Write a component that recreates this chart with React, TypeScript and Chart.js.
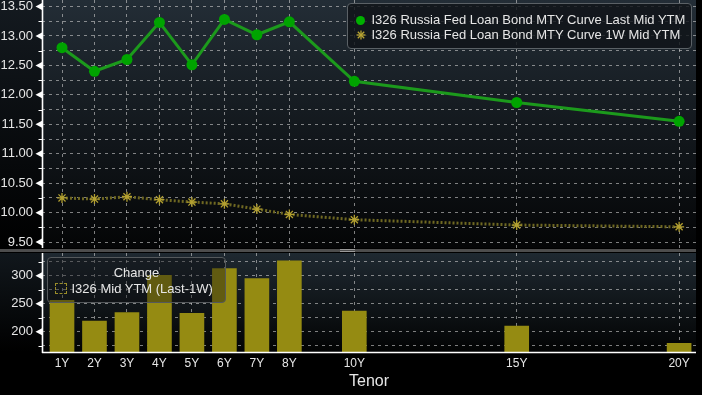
import { useEffect, useRef } from 'react';
import { Chart, registerables } from 'chart.js';

Chart.register(...registerables);

// ---- data ----
const TENOR_LABELS = ['1Y', '2Y', '3Y', '4Y', '5Y', '6Y', '7Y', '8Y', '10Y', '15Y', '20Y'];
const TENOR_YEARS = [1, 2, 3, 4, 5, 6, 7, 8, 10, 15, 20];
const LAST_MID_YTM = [12.8, 12.4, 12.6, 13.23, 12.51, 13.28, 13.02, 13.24, 12.23, 11.87, 11.55];
const WEEK_MID_YTM = [10.25, 10.23, 10.27, 10.22, 10.18, 10.15, 10.06, 9.97, 9.88, 9.79, 9.76];
const CHANGE_BP = [256, 219, 234, 301, 233, 313, 295, 327, 237, 210, 179];

const SERIES_LAST = 'I326 Russia Fed Loan Bond MTY Curve Last Mid YTM';
const SERIES_1W = 'I326 Russia Fed Loan Bond MTY Curve 1W Mid YTM';
const CHANGE_TITLE = 'Change';
const CHANGE_LABEL = 'I326 Mid YTM (Last-1W)';
const X_TITLE = 'Tenor';

const TOP_TICKS = [9.5, 9.75, 10, 10.25, 10.5, 10.75, 11, 11.25, 11.5, 11.75, 12, 12.25, 12.5, 12.75, 13, 13.25, 13.5];
const TOP_MAJOR_TICKS = [9.5, 10, 10.5, 11, 11.5, 12, 12.5, 13, 13.5];
const BOTTOM_TICKS = [175, 200, 225, 250, 275, 300, 325];
const BOTTOM_MAJOR_TICKS = [200, 250, 300];

const X_RANGE = [0.384, 20.52];
const TOP_Y_RANGE = [9.4, 13.61];
const BOTTOM_Y_RANGE = [163.5, 341];

const FONT = "'Liberation Sans', Arial, sans-serif";
const GRID_COLOR = 'rgba(200,200,200,0.62)';
const TEXT_COLOR = '#e6e6e6';

function decoPlugin(kind: 'top' | 'bottom') {
  return {
    id: 'deco-' + kind,
    beforeDraw(chart: any) {
      const { ctx, chartArea } = chart;
      const { left, right, top, bottom } = chartArea;
      ctx.save();
      ctx.fillStyle = '#000';
      ctx.fillRect(0, 0, chart.width, chart.height);
      const g = ctx.createLinearGradient(0, top, 0, bottom);
      if (kind === 'top') {
        g.addColorStop(0, '#232d36');
        g.addColorStop(1, '#040506');
      } else {
        g.addColorStop(0, '#1f2931');
        g.addColorStop(1, '#020303');
      }
      ctx.fillStyle = g;
      ctx.fillRect(left, top, right - left, bottom - top);
      const g2 = ctx.createLinearGradient(0, top, 0, bottom);
      g2.addColorStop(0, kind === 'top' ? '#141a20' : '#11171c');
      g2.addColorStop(1, '#000');
      ctx.fillStyle = g2;
      ctx.fillRect(0, top, left, bottom - top);
      ctx.restore();
    },
    afterDraw(chart: any) {
      const { ctx, chartArea } = chart;
      const { left, right, top, bottom } = chartArea;
      const ys = chart.scales.y;
      const majors = kind === 'top' ? TOP_MAJOR_TICKS : BOTTOM_MAJOR_TICKS;
      ctx.save();
      ctx.strokeStyle = '#ffffff';
      ctx.fillStyle = '#ffffff';
      ctx.lineWidth = 1.6;
      ctx.beginPath();
      ctx.moveTo(left + 0.5, top);
      ctx.lineTo(left + 0.5, bottom + (kind === 'bottom' ? 1 : 0));
      ctx.stroke();
      ys.ticks.forEach((t: any) => {
        const y = ys.getPixelForValue(t.value);
        if (majors.includes(t.value)) {
          ctx.beginPath();
          ctx.moveTo(left - 6.5, y);
          ctx.lineTo(left, y - 3.5);
          ctx.lineTo(left, y + 3.5);
          ctx.closePath();
          ctx.fill();
        } else {
          ctx.lineWidth = 1;
          ctx.beginPath();
          ctx.moveTo(left - 3.5, Math.round(y) + 0.5);
          ctx.lineTo(left, Math.round(y) + 0.5);
          ctx.stroke();
        }
      });
      if (kind === 'bottom') {
        ctx.lineWidth = 1.6;
        ctx.beginPath();
        ctx.moveTo(left, bottom + 0.5);
        ctx.lineTo(right, bottom + 0.5);
        ctx.stroke();
      }
      ctx.restore();
    },
  };
}

function xScale(showLabels: boolean) {
  return {
    type: 'linear',
    min: X_RANGE[0],
    max: X_RANGE[1],
    offset: false,
    afterBuildTicks: (s: any) => {
      s.ticks = TENOR_YEARS.map((v) => ({ value: v }));
    },
    afterFit: (s: any) => {
      s.height = showLabels ? 43 : 1;
      s.paddingLeft = 0;
      s.paddingRight = 0;
    },
    grid: { color: GRID_COLOR, lineWidth: 1, drawTicks: false, offset: false },
    border: { display: false, dash: [3, 4] },
    ticks: {
      display: showLabels,
      autoSkip: false,
      maxRotation: 0,
      padding: 4,
      color: TEXT_COLOR,
      font: { family: FONT, size: 12 },
      callback: (v: any) => {
        const i = TENOR_YEARS.indexOf(Number(v));
        return i >= 0 ? TENOR_LABELS[i] : '';
      },
    },
    title: {
      display: showLabels,
      text: X_TITLE,
      color: TEXT_COLOR,
      font: { family: FONT, size: 16 },
      padding: { top: 0, bottom: 4 },
    },
  };
}

function yScale(range: number[], ticks: number[], majors: number[], digits: number) {
  return {
    type: 'linear',
    min: range[0],
    max: range[1],
    afterBuildTicks: (s: any) => {
      s.ticks = ticks.map((v) => ({ value: v }));
    },
    afterFit: (s: any) => {
      s.width = 42;
      s.paddingTop = 0;
      s.paddingBottom = 0;
    },
    grid: { color: GRID_COLOR, lineWidth: 1, drawTicks: false },
    border: { display: false, dash: [3, 4] },
    ticks: {
      autoSkip: false,
      padding: 9,
      color: TEXT_COLOR,
      font: { family: FONT, size: 13 },
      callback: (v: any) => (majors.includes(Number(v)) ? Number(v).toFixed(digits) : ''),
    },
  };
}

function App() {
  const topRef = useRef<HTMLCanvasElement | null>(null);
  const botRef = useRef<HTMLCanvasElement | null>(null);

  useEffect(() => {
    document.body.style.margin = '0';
    document.body.style.background = '#000';
    const top = new Chart(topRef.current as HTMLCanvasElement, {
      type: 'line',
      data: {
        datasets: [
          {
            label: SERIES_1W,
            data: TENOR_YEARS.map((x, i) => ({ x, y: WEEK_MID_YTM[i] })),
            borderColor: '#6f6822',
            borderWidth: 3,
            borderDash: [2, 2],
            pointStyle: 'star',
            pointRadius: 5,
            pointBorderColor: '#b3a030',
            pointBackgroundColor: '#b3a030',
            pointBorderWidth: 1.3,
            tension: 0,
          },
          {
            label: SERIES_LAST,
            data: TENOR_YEARS.map((x, i) => ({ x, y: LAST_MID_YTM[i] })),
            borderColor: '#1c9a1c',
            borderWidth: 3,
            pointStyle: 'circle',
            pointRadius: 5.5,
            pointBackgroundColor: '#00a400',
            pointBorderWidth: 0,
            tension: 0,
          },
        ],
      },
      options: {
        responsive: false,
        animation: false,
        devicePixelRatio: 1,
        layout: { autoPadding: false, padding: { top: 0, right: 6, left: 0, bottom: 0 } },
        plugins: { legend: { display: false }, tooltip: { enabled: false } },
        scales: {
          x: xScale(false),
          y: yScale(TOP_Y_RANGE, TOP_TICKS, TOP_MAJOR_TICKS, 2),
        },
      } as any,
      plugins: [decoPlugin('top')],
    });
    const bot = new Chart(botRef.current as HTMLCanvasElement, {
      type: 'bar',
      data: {
        datasets: [
          {
            label: CHANGE_LABEL,
            data: TENOR_YEARS.map((x, i) => ({ x, y: CHANGE_BP[i] })),
            backgroundColor: '#958b12',
            borderWidth: 0,
            barThickness: 24,
          },
        ],
      },
      options: {
        responsive: false,
        animation: false,
        devicePixelRatio: 1,
        layout: { autoPadding: false, padding: { top: 1, right: 6, left: 0, bottom: 0 } },
        plugins: { legend: { display: false }, tooltip: { enabled: false } },
        scales: {
          x: xScale(true),
          y: yScale(BOTTOM_Y_RANGE, BOTTOM_TICKS, BOTTOM_MAJOR_TICKS, 0),
        },
      } as any,
      plugins: [decoPlugin('bottom')],
    });
    return () => {
      top.destroy();
      bot.destroy();
    };
  }, []);

  const abs = (l: number, t: number, extra: any = {}) => ({ position: 'absolute' as const, left: l, top: t, ...extra });
  const textStyle = { fontFamily: FONT, fontSize: 13, lineHeight: '14px', color: TEXT_COLOR, whiteSpace: 'nowrap' as const };

  return (
    <div style={{ position: 'relative', width: 702, height: 395, background: '#000', overflow: 'hidden' }}>
      <canvas ref={topRef} width={702} height={249} style={abs(0, 0, { display: 'block' })} />
      <div style={abs(0, 249, { width: 696, height: 3, background: '#4d4d4d' })} />
      <div style={abs(340, 249, { width: 15, height: 1, background: '#9a9a9a' })} />
      <div style={abs(340, 251, { width: 15, height: 1, background: '#9a9a9a' })} />
      <canvas ref={botRef} width={702} height={143} style={abs(0, 252, { display: 'block' })} />

      {/* top legend */}
      <div
        style={abs(347, 3, {
          width: 343,
          height: 44,
          border: '1px solid #5b6166',
          borderRadius: 4,
          background: 'rgba(16,20,24,0.82)',
        })}
      />
      <div style={abs(356, 15.5, { width: 9, height: 9, borderRadius: '50%', background: '#00b000' })} />
      <div style={abs(371.5, 13, textStyle)}>{SERIES_LAST}</div>
      <svg style={abs(355.5, 29.5)} width={10} height={10} viewBox="0 0 10 10">
        <g stroke="#b8a532" strokeWidth={1.3}>
          <line x1={5} y1={0.5} x2={5} y2={9.5} />
          <line x1={0.5} y1={5} x2={9.5} y2={5} />
          <line x1={1.8} y1={1.8} x2={8.2} y2={8.2} />
          <line x1={8.2} y1={1.8} x2={1.8} y2={8.2} />
        </g>
      </svg>
      <div style={abs(371.5, 27.5, textStyle)}>{SERIES_1W}</div>

      {/* bottom legend */}
      <div
        style={abs(47, 257, {
          width: 177,
          height: 44,
          border: '1px solid #55595c',
          borderRadius: 4,
          background: 'rgba(12,14,16,0.38)',
        })}
      />
      <div style={abs(47, 266, { ...textStyle, width: 179, textAlign: 'center' })}>{CHANGE_TITLE}</div>
      <div style={abs(55, 283, { width: 10, height: 9, border: '1px dashed #9a8c2a' })} />
      <div style={abs(71.5, 282, textStyle)}>{CHANGE_LABEL}</div>
    </div>
  );
}

export default App;
